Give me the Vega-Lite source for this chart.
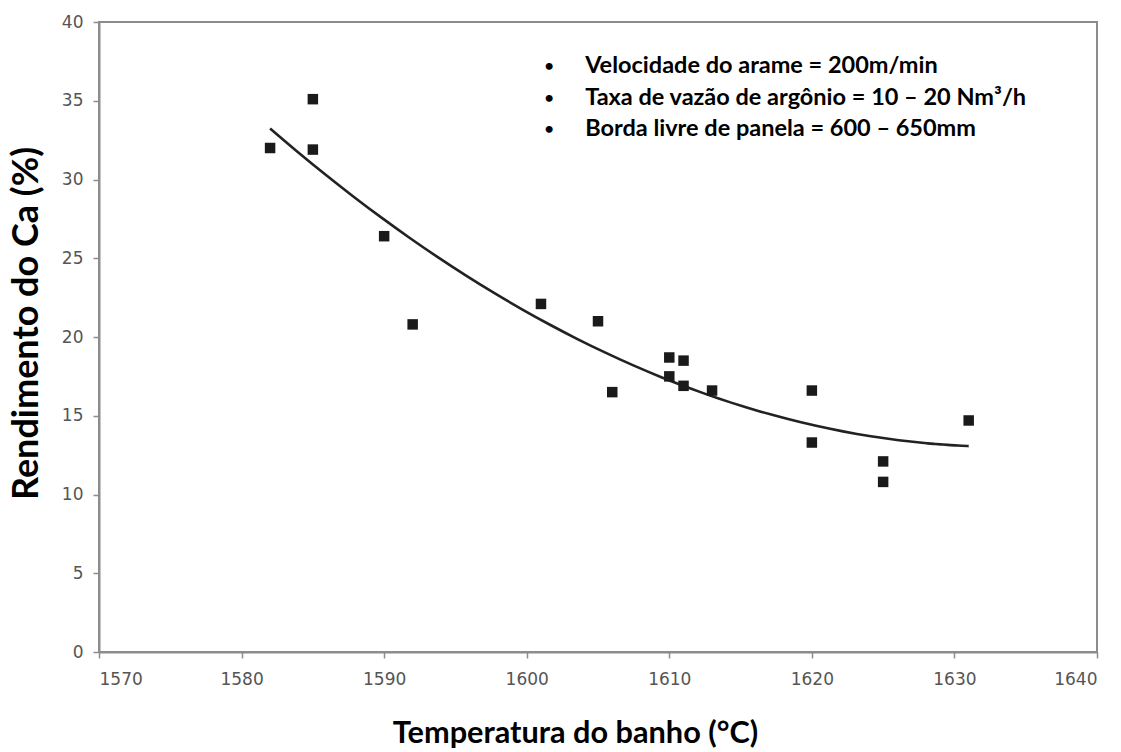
{
  "$schema": "https://vega.github.io/schema/vega-lite/v6.json",
  "width": 998,
  "height": 630,
  "autosize": {"type": "none"},
  "padding": {"left": 99, "top": 22, "right": 24, "bottom": 100},
  "background": "white",
  "config": {
    "view": {"stroke": "#8c8c8c", "strokeWidth": 2},
    "axis": {
      "grid": false,
      "domainColor": "#8c8c8c",
      "domainWidth": 2,
      "tickColor": "#8c8c8c",
      "tickWidth": 1.5,
      "tickSize": 6,
      "labelFont": "DejaVu Sans",
      "labelFontSize": 17,
      "labelColor": "#555555",
      "titleFont": "Lato",
      "titleFontWeight": "bold",
      "titleColor": "#000000"
    }
  },
  "datasets": {
    "medidas": [
      {"temperatura": 1582, "rendimento": 32.0},
      {"temperatura": 1585, "rendimento": 35.1},
      {"temperatura": 1585, "rendimento": 31.9},
      {"temperatura": 1590, "rendimento": 26.4},
      {"temperatura": 1592, "rendimento": 20.8},
      {"temperatura": 1601, "rendimento": 22.1},
      {"temperatura": 1605, "rendimento": 21.0},
      {"temperatura": 1606, "rendimento": 16.5},
      {"temperatura": 1610, "rendimento": 18.7},
      {"temperatura": 1610, "rendimento": 17.5},
      {"temperatura": 1611, "rendimento": 18.5},
      {"temperatura": 1611, "rendimento": 16.9},
      {"temperatura": 1613, "rendimento": 16.6},
      {"temperatura": 1620, "rendimento": 16.6},
      {"temperatura": 1620, "rendimento": 13.3},
      {"temperatura": 1625, "rendimento": 12.1},
      {"temperatura": 1625, "rendimento": 10.8},
      {"temperatura": 1631, "rendimento": 14.7}
    ],
    "condicoes": [
      {"linha": "Velocidade do arame = 200m/min", "temperatura": 1604.1, "rendimento": 37.2},
      {"linha": "Taxa de vazão de argônio = 10 – 20 Nm³/h", "temperatura": 1604.1, "rendimento": 35.2},
      {"linha": "Borda livre de panela = 600 – 650mm", "temperatura": 1604.1, "rendimento": 33.2}
    ]
  },
  "encoding": {
    "x": {
      "field": "temperatura",
      "type": "quantitative",
      "scale": {"domain": [1570, 1640], "nice": false, "zero": false},
      "axis": {
        "values": [1570, 1580, 1590, 1600, 1610, 1620, 1630, 1640],
        "format": "d",
        "labelPadding": 13,
        "title": "Temperatura do banho (°C)",
        "titleFontSize": 30.7,
        "titleX": 476,
        "titleY": 81,
        "titleBaseline": "middle",
        "titleAlign": "center"
      }
    },
    "y": {
      "field": "rendimento",
      "type": "quantitative",
      "scale": {"domain": [0, 40], "nice": false},
      "axis": {
        "values": [0, 5, 10, 15, 20, 25, 30, 35, 40],
        "labelPadding": 10,
        "title": "Rendimento do Ca (%)",
        "titleFontSize": 36,
        "titleX": -73,
        "titleY": 301,
        "titleBaseline": "middle",
        "titleAlign": "center",
        "titleAngle": -90
      }
    }
  },
  "layer": [
    {
      "data": {"name": "medidas"},
      "transform": [
        {
          "regression": "rendimento",
          "on": "temperatura",
          "method": "poly",
          "order": 2,
          "extent": [1582, 1631]
        }
      ],
      "mark": {"type": "line", "color": "#222222", "strokeWidth": 2.6, "interpolate": "monotone"}
    },
    {
      "data": {"name": "medidas"},
      "mark": {"type": "point", "shape": "square", "filled": true, "size": 110, "color": "#1a1a1a", "opacity": 1}
    },
    {
      "data": {"name": "condicoes"},
      "mark": {"type": "text", "align": "left", "baseline": "middle", "font": "Lato", "fontWeight": "bold", "fontSize": 23.5, "color": "#000000"},
      "encoding": {"text": {"field": "linha"}}
    },
    {
      "data": {"name": "condicoes"},
      "mark": {"type": "text", "align": "center", "baseline": "middle", "font": "Lato", "fontWeight": "bold", "fontSize": 16, "color": "#000000", "text": "•", "dx": -36},
      "encoding": {}
    }
  ]
}
